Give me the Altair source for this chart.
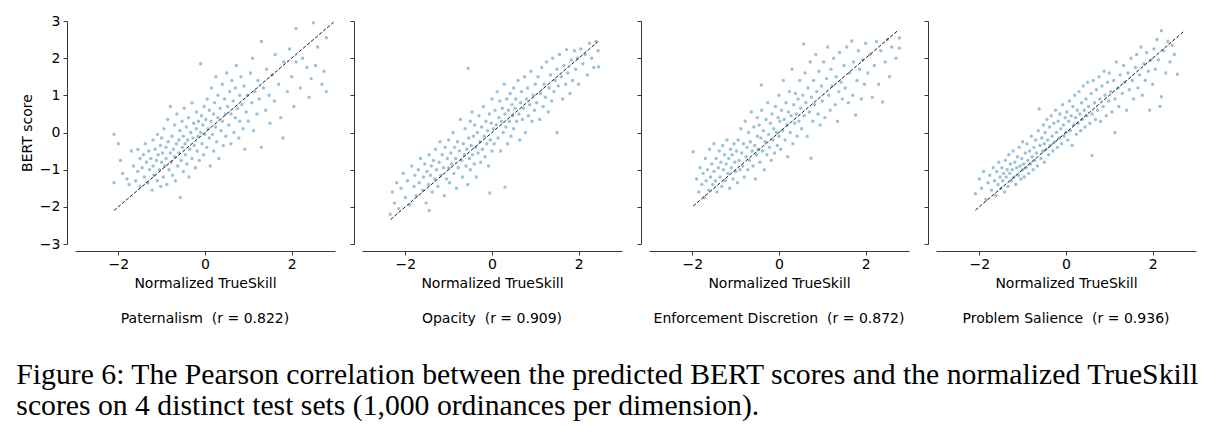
import altair as alt
import pandas as pd

# ---------------- data ----------------
panel_titles = [
    "Paternalism\u00a0 (r = 0.822)",
    "Opacity\u00a0 (r = 0.909)",
    "Enforcement Discretion\u00a0 (r = 0.872)",
    "Problem Salience\u00a0 (r = 0.936)",
]

# identity reference line end points (x = y) per panel
line_ends = [(-2.1, 2.97), (-2.34, 2.44), (-1.98, 2.76), (-2.09, 2.72)]

paternalism_pts = [
    (-2.1, -0.05), (-2.0, -0.3), (-2.1, -1.35), (-1.95, -0.75), (-1.9, -1.1), (-1.8, -1.25), (-1.75, -1.4),
    (-1.7, -0.5), (-1.65, -0.9), (-1.6, -1.3), (-1.55, -0.45), (-1.55, -1.05), (-1.5, -0.7), (-1.5, -1.45),
    (-1.45, -0.95), (-1.42, -0.6), (-1.4, -1.2), (-1.38, -0.3), (-1.35, -0.8), (-1.32, -1.35), (-1.3, -0.5),
    (-1.28, -1.0), (-1.25, -0.7), (-1.22, -1.55), (-1.2, -0.2), (-1.2, -0.9), (-1.18, -1.15), (-1.15, -0.45),
    (-1.12, -0.75), (-1.1, -1.3), (-1.1, -0.05), (-1.08, -0.6), (-1.05, -1.0), (-1.03, -0.35), (-1.02, -1.45),
    (-1.0, -0.8), (-1.0, -0.15),
    (-0.98, -0.55), (-0.96, -1.2), (-0.95, 0.1), (-0.93, -0.9), (-0.9, -0.4), (-0.9, -0.7), (-0.88, -1.4),
    (-0.86, 0.35), (-0.85, -0.25), (-0.83, -1.0), (-0.8, -0.55), (-0.8, 0.7), (-0.78, -0.8), (-0.76, -0.1),
    (-0.75, -1.15), (-0.73, -0.45), (-0.7, 0.2), (-0.7, -0.65), (-0.68, -1.3), (-0.66, -0.3), (-0.65, 0.5),
    (-0.63, -0.9), (-0.6, -0.2), (-0.6, -0.55), (-0.58, 0.05), (-0.57, -1.75), (-0.55, -0.75), (-0.53, 0.3),
    (-0.52, -0.4), (-0.5, -1.05), (-0.5, -0.1),
    (-0.48, 0.65), (-0.46, -0.3), (-0.45, -0.6), (-0.43, 0.15), (-0.42, -0.85), (-0.4, -0.2), (-0.38, 0.4),
    (-0.37, -1.2), (-0.35, -0.45), (-0.33, 0.0), (-0.3, -0.7), (-0.3, 0.8), (-0.28, -0.15), (-0.26, 0.25),
    (-0.25, -0.35), (-0.22, -0.95), (-0.2, 0.1), (-0.2, 0.55), (-0.18, -0.5), (-0.16, -0.1), (-0.15, 0.3),
    (-0.13, -0.75), (-0.1, 1.85), (-0.1, 0.0), (-0.08, 0.45), (-0.07, -0.3), (-0.05, 0.2), (-0.03, -0.6),
    (-0.02, 0.7), (0.0, -0.05),
    (0.02, 0.35), (0.04, -0.4), (0.05, 0.9), (0.07, 0.1), (0.1, -0.15), (0.1, 0.6), (0.12, -0.9), (0.14, 0.3),
    (0.15, 1.2), (0.17, -0.05), (0.2, 0.5), (0.2, -0.5), (0.22, 0.8), (0.24, 0.15), (0.25, 1.5), (0.27, -0.25),
    (0.3, 0.4), (0.3, 1.0), (0.32, -0.7), (0.35, 0.65), (0.37, 0.05), (0.4, 1.3), (0.4, 0.3), (0.42, -0.35),
    (0.45, 0.9), (0.47, 0.5), (0.48, -0.1), (0.5, 1.6),
    (0.52, 0.7), (0.55, 0.2), (0.57, 1.1), (0.6, -0.3), (0.6, 0.5), (0.62, 1.4), (0.65, 0.85), (0.67, 0.0),
    (0.7, 1.2), (0.7, 0.4), (0.72, 1.8), (0.75, 0.65), (0.78, -0.15), (0.8, 1.0), (0.8, 0.3), (0.83, 1.5),
    (0.85, 0.75), (0.88, 0.1), (0.9, 1.25), (0.92, -0.45), (0.95, 0.55), (0.98, 1.0),
    (1.0, 0.3), (1.05, 1.6), (1.08, 0.8), (1.1, 2.0), (1.12, 0.05), (1.15, 1.1), (1.2, 0.5), (1.22, 1.4),
    (1.25, 0.9), (1.3, 2.45), (1.3, -0.4), (1.35, 1.2), (1.4, 0.6), (1.42, 1.7), (1.48, 1.0), (1.5, 0.25),
    (1.55, 1.55), (1.6, 0.85), (1.62, 2.1), (1.7, 1.3), (1.75, 0.4), (1.8, -0.15), (1.82, 1.9), (1.9, 1.1),
    (1.95, 2.25), (2.0, 1.5), (2.05, 0.7), (2.1, 1.9), (2.1, 2.8),
    (2.2, 1.2), (2.25, 2.0), (2.35, 1.75), (2.4, 0.95), (2.45, 1.45), (2.5, 2.95), (2.55, 1.8), (2.6, 2.3),
    (2.7, 1.3), (2.75, 1.65), (2.8, 2.55), (2.8, 1.1),
]

opacity_pts = [
    (-2.35, -2.2), (-2.3, -1.6), (-2.25, -1.9), (-2.2, -1.35), (-2.15, -2.05), (-2.1, -1.5), (-2.05, -1.1),
    (-2.0, -1.75), (-1.95, -1.3), (-1.9, -1.95), (-1.85, -0.9), (-1.8, -1.45), (-1.78, -1.15), (-1.75, -1.7),
    (-1.7, -1.0), (-1.68, -1.35), (-1.65, -0.7), (-1.6, -1.55), (-1.58, -1.2), (-1.55, -0.85), (-1.52, -1.9),
    (-1.5, -1.05), (-1.45, -2.1),
    (-1.47, -1.4), (-1.45, -0.6), (-1.42, -1.15), (-1.4, -0.9), (-1.38, -1.6), (-1.35, -0.75), (-1.32, -1.25),
    (-1.3, -0.45), (-1.28, -1.0), (-1.25, -1.45), (-1.22, -0.8), (-1.2, -0.25), (-1.18, -1.15), (-1.15, -0.6),
    (-1.12, -0.95), (-1.1, -1.7), (-1.08, -0.4), (-1.05, -1.25), (-1.03, -0.7), (-1.0, -0.95), (-1.0, -0.2),
    (-0.98, -1.35), (-0.95, -0.55), (-0.93, -0.85), (-0.9, 0.0), (-0.88, -1.1), (-0.86, -0.4), (-0.84, -0.7),
    (-0.82, -1.5), (-0.8, -0.25), (-0.78, -0.95), (-0.75, -0.5), (-0.73, 0.35), (-0.7, -0.75), (-0.68, -1.2),
    (-0.66, -0.3), (-0.64, -0.6), (-0.62, 0.1), (-0.6, -0.9), (-0.58, -0.45), (-0.56, -1.4), (-0.55, 1.73),
    (-0.54, -0.15), (-0.52, -0.7), (-0.5, 0.3), (-0.5, -1.0),
    (-0.48, -0.35), (-0.46, 0.55), (-0.45, -0.6), (-0.43, -0.1), (-0.41, -0.85), (-0.4, 0.2), (-0.38, -0.4),
    (-0.36, -1.2), (-0.34, 0.0), (-0.32, -0.55), (-0.3, 0.45), (-0.28, -0.25), (-0.26, -0.8), (-0.24, 0.15),
    (-0.22, -0.45), (-0.2, 0.7), (-0.18, -0.1), (-0.16, -0.65), (-0.14, 0.3), (-0.12, -0.3), (-0.1, 0.05),
    (-0.08, -0.9), (-0.06, 0.5), (-0.05, -1.63), (-0.04, -0.2), (-0.02, 0.25), (0.0, -0.5), (0.0, 0.9),
    (0.03, 0.1), (0.05, -0.3), (0.07, 0.6), (0.1, 0.2), (0.12, 1.1), (0.14, -0.15), (0.16, 0.4), (0.18, 0.85),
    (0.2, -0.5), (0.22, 0.3), (0.24, 0.65), (0.26, 0.0), (0.28, 1.3), (0.3, -1.47), (0.3, 0.5), (0.32, 0.15),
    (0.34, 0.9), (0.36, -0.3), (0.38, 0.6), (0.4, 0.3), (0.42, 1.05), (0.44, -0.1), (0.46, 0.75), (0.48, 0.45),
    (0.5, 0.1), (0.5, 1.2),
    (0.53, 0.65), (0.55, 0.9), (0.57, 0.3), (0.6, 1.4), (0.62, 0.5), (0.64, -0.2), (0.66, 0.8), (0.68, 1.1),
    (0.7, 0.35), (0.72, 0.65), (0.75, 1.5), (0.77, 0.0), (0.8, 0.9), (0.82, 1.2), (0.84, 0.45), (0.87, 0.75),
    (0.9, 1.65), (0.92, 0.3), (0.95, 1.0), (0.98, 0.6),
    (1.0, 1.3), (1.03, 0.8), (1.06, 1.5), (1.1, 0.35), (1.12, 1.05), (1.15, 1.75), (1.18, 0.7), (1.2, 1.3),
    (1.23, 0.95), (1.26, 1.9), (1.3, 0.55), (1.32, 1.2), (1.35, 1.55), (1.38, 0.85), (1.4, 2.0), (1.43, 1.1),
    (1.46, 1.4), (1.5, 0.0), (1.5, 1.7),
    (1.53, 1.25), (1.56, 2.1), (1.6, 1.5), (1.63, 0.9), (1.66, 1.8), (1.7, 1.3), (1.72, 2.23), (1.75, 1.6),
    (1.8, 1.05), (1.83, 1.95), (1.86, 1.4), (1.9, 2.2), (1.93, 1.7), (1.97, 2.0), (2.0, 1.3),
    (2.05, 2.25), (2.1, 1.85), (2.15, 2.1), (2.2, 1.55), (2.25, 2.4), (2.3, 2.0), (2.35, 1.75), (2.4, 2.45),
    (2.45, 2.2), (2.46, 1.77),
]

enforcement_pts = [
    (-1.98, -0.52), (-1.9, -1.25), (-1.85, -1.6), (-1.82, -0.95), (-1.78, -1.4), (-1.75, -1.1), (-1.72, -1.75),
    (-1.7, -0.7), (-1.68, -1.3), (-1.65, -1.0), (-1.62, -1.55), (-1.6, -0.45), (-1.58, -1.2), (-1.55, -0.85),
    (-1.53, -1.4), (-1.5, -1.05), (-1.5, -0.3),
    (-1.47, -1.3), (-1.45, -0.7), (-1.43, -1.6), (-1.4, -0.95), (-1.38, -0.5), (-1.36, -1.2), (-1.34, -0.8),
    (-1.32, -1.45), (-1.3, -0.35), (-1.28, -1.0), (-1.26, -0.6), (-1.24, -1.3), (-1.22, -0.85), (-1.2, -0.2),
    (-1.18, -1.1), (-1.16, -0.7), (-1.14, -1.5), (-1.12, -0.45), (-1.1, -0.95), (-1.08, -0.6), (-1.06, -1.25),
    (-1.04, -0.3), (-1.02, -0.8), (-1.0, -1.05),
    (-0.98, -0.5), (-0.96, -1.35), (-0.94, -0.2), (-0.92, -0.75), (-0.9, -1.0), (-0.88, 0.1), (-0.86, -0.55),
    (-0.84, -0.9), (-0.82, -0.3), (-0.8, -1.2), (-0.78, 0.3), (-0.76, -0.65), (-0.74, -0.4), (-0.72, -1.0),
    (-0.7, 0.0), (-0.68, -0.75), (-0.66, -0.25), (-0.64, 0.55), (-0.62, -0.5), (-0.6, -0.9), (-0.58, 0.15),
    (-0.56, -0.35), (-0.54, -1.25), (-0.52, -0.6), (-0.5, 0.4), (-0.5, -0.1),
    (-0.48, -0.45), (-0.46, 0.2), (-0.44, -0.8), (-0.42, -0.15), (-0.41, 1.28), (-0.4, 0.6), (-0.38, -0.5),
    (-0.36, 0.05), (-0.34, -1.0), (-0.32, -0.25), (-0.3, 0.35), (-0.28, -0.6), (-0.26, 0.8), (-0.24, -0.05),
    (-0.22, -0.4), (-0.2, 0.25), (-0.18, -0.75), (-0.16, 0.5), (-0.14, -0.2), (-0.12, 0.1), (-0.1, -0.55),
    (-0.08, 0.7), (-0.06, 0.0), (-0.04, -0.35), (-0.02, 0.4), (0.0, 1.0), (0.0, -0.1),
    (0.02, 0.3), (0.04, -0.45), (0.06, 0.6), (0.08, 0.05), (0.1, 1.4), (0.12, 0.35), (0.14, -0.2), (0.16, 0.8),
    (0.18, 0.2), (0.2, -0.65), (0.22, 0.55), (0.24, 1.1), (0.26, 0.0), (0.28, 0.45), (0.3, 1.7), (0.32, -0.3),
    (0.34, 0.75), (0.36, 0.25), (0.38, 1.05), (0.4, 0.5), (0.42, -0.1), (0.44, 0.9), (0.46, 0.3), (0.48, 1.4),
    (0.5, 0.65),
    (0.52, 0.1), (0.55, 1.0), (0.57, 2.38), (0.58, 0.45), (0.6, 1.6), (0.62, 0.8), (0.65, -0.1), (0.67, 1.2),
    (0.7, 0.55), (0.72, 1.9), (0.74, -0.69), (0.75, 0.95), (0.78, 0.3), (0.8, 1.4), (0.82, 0.75), (0.85, 2.1),
    (0.87, 1.1), (0.9, 0.5), (0.92, 1.65), (0.95, 0.2), (0.98, 1.25),
    (1.0, 0.85), (1.03, 1.9), (1.06, 0.4), (1.1, 1.45), (1.12, 2.3), (1.15, 1.0), (1.18, 0.6), (1.2, 1.7),
    (1.23, 1.25), (1.26, 2.0), (1.3, 0.75), (1.32, 1.5), (1.35, 0.3), (1.38, 1.1), (1.4, 2.15), (1.43, 1.35),
    (1.46, 0.9), (1.5, 1.8),
    (1.53, 1.2), (1.56, 2.3), (1.6, 0.8), (1.63, 1.6), (1.68, 2.46), (1.7, 1.0), (1.72, 1.9), (1.77, 0.47),
    (1.8, 1.4), (1.83, 2.2), (1.86, 1.7), (1.9, 0.9), (1.93, 1.95), (1.97, 1.3), (2.0, 2.4),
    (2.05, 1.6), (2.1, 2.1), (2.15, 0.95), (2.2, 1.8), (2.25, 2.45), (2.3, 1.3), (2.35, 2.2), (2.39, 0.82),
    (2.45, 1.9), (2.5, 2.5), (2.55, 1.5), (2.6, 2.3), (2.7, 2.0), (2.78, 2.27), (2.78, 2.54),
]

salience_pts = [
    (-2.09, -1.65), (-2.0, -1.25), (-1.95, -1.5), (-1.9, -1.05), (-1.85, -1.8), (-1.8, -1.35), (-1.76, -1.15),
    (-1.72, -1.55), (-1.68, -0.95), (-1.65, -1.3), (-1.62, -1.7), (-1.6, -1.05), (-1.57, -1.4), (-1.55, -0.8),
    (-1.52, -1.2), (-1.5, -1.5),
    (-1.48, -0.95), (-1.46, -1.3), (-1.44, -1.1), (-1.42, -1.6), (-1.4, -0.75), (-1.38, -1.2), (-1.36, -1.0),
    (-1.34, -1.45), (-1.32, -0.6), (-1.3, -1.1), (-1.28, -0.85), (-1.26, -1.3), (-1.24, -1.0), (-1.22, -0.5),
    (-1.2, -1.2), (-1.18, -0.8), (-1.16, -1.4), (-1.14, -0.95), (-1.12, -0.65), (-1.1, -1.15), (-1.08, -0.4),
    (-1.06, -0.9), (-1.04, -1.25), (-1.02, -0.7), (-1.0, -1.0), (-1.0, -0.25),
    (-0.98, -0.85), (-0.96, -1.2), (-0.94, -0.55), (-0.92, -0.95), (-0.9, -0.3), (-0.88, -0.75), (-0.86, -1.1),
    (-0.84, -0.5), (-0.82, -0.85), (-0.8, -0.1), (-0.78, -0.65), (-0.76, -1.0), (-0.74, -0.4), (-0.72, -0.75),
    (-0.7, -0.2), (-0.68, -0.55), (-0.66, -0.9), (-0.64, 0.05), (-0.62, 0.63), (-0.6, -0.35), (-0.58, -0.7),
    (-0.56, -0.15), (-0.54, -0.5), (-0.52, 0.2), (-0.5, -0.8), (-0.5, -0.3),
    (-0.48, 0.0), (-0.46, -0.45), (-0.44, 0.35), (-0.42, -0.2), (-0.4, -0.6), (-0.38, 0.15), (-0.36, -0.35),
    (-0.34, 0.45), (-0.32, -0.1), (-0.3, -0.5), (-0.28, 0.25), (-0.26, -0.25), (-0.24, 0.6), (-0.22, 0.0),
    (-0.2, -0.4), (-0.18, 0.3), (-0.16, -0.15), (-0.14, 0.5), (-0.12, 0.1), (-0.1, -0.3), (-0.08, 0.75),
    (-0.06, 0.2), (-0.04, -0.1), (-0.02, 0.4), (0.0, 0.0),
    (0.02, 0.55), (0.04, -0.2), (0.06, 0.3), (0.08, 0.85), (0.1, 0.05), (0.12, 0.45), (0.14, -0.35), (0.16, 0.7),
    (0.18, 0.2), (0.2, 1.0), (0.22, 0.4), (0.24, -0.05), (0.26, 0.6), (0.28, 0.25), (0.3, 1.1), (0.32, 0.5),
    (0.34, 0.05), (0.36, 0.8), (0.38, 0.35), (0.4, 1.25), (0.42, 0.6), (0.44, 0.15), (0.46, 0.9), (0.48, 0.45),
    (0.5, 1.35),
    (0.52, 0.7), (0.55, 0.25), (0.58, 1.05), (0.6, -0.62), (0.6, 0.5), (0.63, 1.4), (0.66, 0.8), (0.68, 0.35),
    (0.7, 1.15), (0.73, 0.6), (0.76, 1.5), (0.78, 0.9), (0.8, 0.3), (0.83, 1.25), (0.86, 0.7), (0.88, 1.65),
    (0.9, 1.0), (0.93, 0.45), (0.96, 1.35), (0.98, 0.85),
    (1.0, 1.6), (1.03, 1.1), (1.06, 0.55), (1.1, 1.4), (1.13, 0.9), (1.16, 1.9), (1.2, 1.2), (1.22, 0.7),
    (1.25, 1.55), (1.13, 0.0), (1.3, 1.05), (1.33, 1.8), (1.36, 1.35), (1.4, 0.6), (1.43, 1.6), (1.46, 1.15),
    (1.5, 2.0),
    (1.53, 1.4), (1.56, 0.9), (1.6, 1.75), (1.63, 2.1), (1.66, 1.2), (1.7, 1.55), (1.73, 2.3), (1.76, 1.0),
    (1.8, 1.85), (1.83, 1.4), (1.86, 2.15), (1.9, 1.65), (1.93, 0.6), (1.96, 1.95), (2.0, 1.3),
    (2.03, 2.25), (2.06, 1.7), (2.1, 2.5), (2.13, 1.95), (2.17, 0.7), (2.2, 2.74), (2.2, 0.96), (2.25, 2.2),
    (2.3, 1.6), (2.35, 2.45), (2.4, 1.9), (2.45, 2.35), (2.5, 2.1), (2.57, 1.57),
]

point_sets = [paternalism_pts, opacity_pts, enforcement_pts, salience_pts]

x_ticks = [-2, 0, 2]
y_ticks = [-3, -2, -1, 0, 1, 2, 3]

caption_lines = [
    "Figure 6: The Pearson correlation between the predicted BERT scores and the normalized TrueSkill",
    "scores on 4 distinct test sets (1,000 ordinances per dimension).",
]

# ---------------- chart ----------------
FONT = "DejaVu Sans"
AX = "#222222"

def make_panel(i):
    pts = point_sets[i]
    df = pd.DataFrame({"x": [p[0] for p in pts], "y": [p[1] for p in pts]})
    lo, hi = line_ends[i]
    ldf = pd.DataFrame({"x": [lo, hi], "y": [lo, hi]})

    x_axis = alt.Axis(
        values=x_ticks, title="Normalized TrueSkill", offset=7, grid=False,
        tickSize=4, labelPadding=2, titlePadding=5, domainColor=AX, tickColor=AX,
        domainWidth=0.9, tickWidth=0.9, labelFontSize=14, titleFontSize=14,
        labelFont=FONT, titleFont=FONT, labelColor="black", titleColor="black",
        titleFontWeight="normal", labelOverlap=False,
    )
    if i == 0:
        y_axis = alt.Axis(
            values=y_ticks, title="BERT score", offset=8, grid=False,
            tickSize=4, labelPadding=3, titlePadding=5, domainColor=AX, tickColor=AX,
            domainWidth=0.9, tickWidth=0.9, labelFontSize=14, titleFontSize=14,
            labelFont=FONT, titleFont=FONT, labelColor="black", titleColor="black",
            titleFontWeight="normal", labelOverlap=False,
        )
    else:
        y_axis = alt.Axis(
            values=y_ticks, title=None, labels=False, offset=8, grid=False,
            tickSize=4, domainColor=AX, tickColor=AX, domainWidth=0.9, tickWidth=0.9,
        )

    xs = alt.Scale(domain=[-3, 3], nice=False, zero=False)
    ys = alt.Scale(domain=[-3, 3], nice=False, zero=False)

    pts_chart = alt.Chart(df).mark_circle(size=12, opacity=0.45, color="#1f77b4").encode(
        x=alt.X("x:Q", scale=xs, axis=x_axis),
        y=alt.Y("y:Q", scale=ys, axis=y_axis),
    )
    line_chart = alt.Chart(ldf).mark_line(
        color="black", strokeWidth=0.9, strokeDash=[3.5, 1.8]
    ).encode(
        x=alt.X("x:Q", scale=xs, axis=x_axis),
        y=alt.Y("y:Q", scale=ys, axis=y_axis),
    )

    return alt.layer(pts_chart, line_chart).properties(
        width=260, height=223,
        title=alt.TitleParams(
            text=panel_titles[i], orient="bottom", offset=22,
            font=FONT, fontSize=14, fontWeight="normal", color="black",
        ),
    )

chart = alt.hconcat(*[make_panel(i) for i in range(4)], spacing=27, bounds="flush").properties(
    title=alt.TitleParams(
        text=caption_lines, orient="bottom", anchor="start", offset=35, dx=-4,
        font="Liberation Serif", fontSize=29.7, fontWeight="normal", color="black",
        lineHeight=31,
    ),
    padding={"left": 16, "top": 14, "right": 0, "bottom": 0},
    background="white",
).configure_view(stroke=None)

chart.save("out.html", embed_options={"renderer": "svg", "actions": False})
